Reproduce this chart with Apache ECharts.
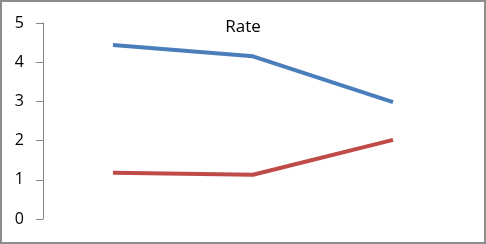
<!DOCTYPE html>
<html><head><meta charset="utf-8">
<script src="https://cdn.jsdelivr.net/npm/echarts@6/dist/echarts.min.js"></script>
<style>
html,body{margin:0;padding:0;background:#fff;}
#c{width:486px;height:244px;box-sizing:border-box;border:2px solid #8c8c8c;}
</style></head>
<body><div id="c"></div>
<script>
var categories = ['1', '2', '3'];
var seriesBlue = [4.44, 4.15, 2.98];
var seriesRed = [1.18, 1.13, 2.02];
var yTicks = [0, 1, 2, 3, 4, 5];

var chart = echarts.init(document.getElementById('c'));
chart.setOption({
  animation: false,
  title: {
    text: 'Rate', left: 'center', top: 12,
    textStyle: {fontFamily: 'Open Sans', fontSize: 17, fontWeight: 'normal', color: '#000'}
  },
  grid: {left: 41, right: 21, top: 21, bottom: 23},
  xAxis: {
    type: 'category', data: categories, boundaryGap: true,
    axisLine: {show: false}, axisTick: {show: false}, axisLabel: {show: false}, splitLine: {show: false}
  },
  yAxis: {
    type: 'value', min: yTicks[0], max: yTicks[yTicks.length - 1], interval: 1,
    axisLine: {show: true, lineStyle: {color: '#868686', width: 1}},
    axisTick: {show: true, length: 7, lineStyle: {color: '#868686'}},
    axisLabel: {fontFamily: 'Open Sans', fontSize: 16, color: '#000', margin: 19},
    splitLine: {show: false}
  },
  series: [
    {type: 'line', data: seriesBlue, symbol: 'none', lineStyle: {color: '#4A7EBB', width: 4}},
    {type: 'line', data: seriesRed, symbol: 'none', lineStyle: {color: '#BE4B48', width: 4}}
  ]
});
</script></body></html>
